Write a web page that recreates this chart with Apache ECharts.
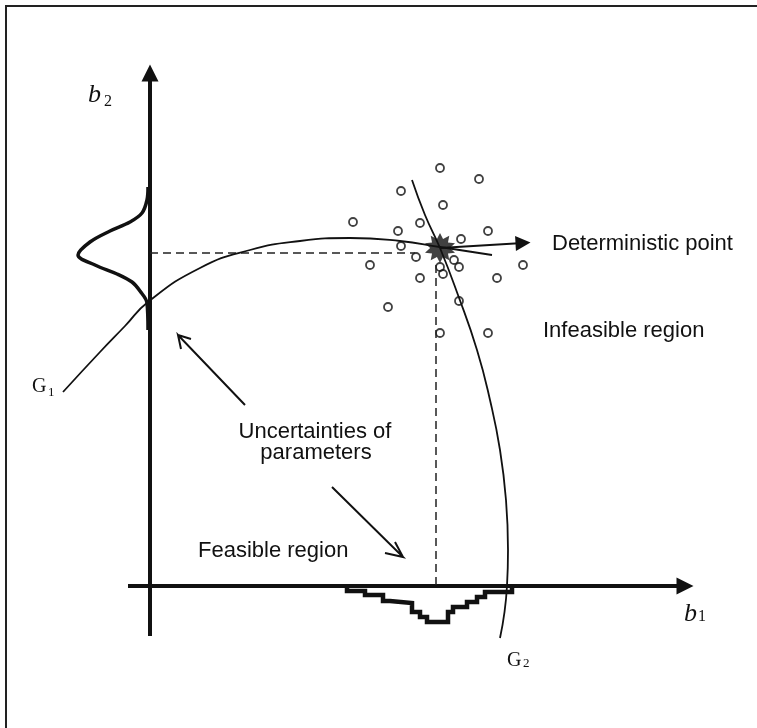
<!DOCTYPE html>
<html>
<head>
<meta charset="utf-8">
<script src="https://cdn.jsdelivr.net/npm/echarts@6/dist/echarts.min.js"></script>
<style>html,body{margin:0;padding:0;background:#fff}#c{width:757px;height:728px}</style>
</head>
<body>
<div id="c"></div>
<script>
// Data space: origin at the intersection of the b1/b2 axes (units of the sketch)
var scatterPoints = [
  [2.90,4.18],[3.29,4.07],[2.51,3.95],[2.93,3.81],[2.03,3.64],[2.70,3.63],
  [2.48,3.55],[3.38,3.55],[3.11,3.47],[2.51,3.40],[2.66,3.29],[2.20,3.21],
  [3.73,3.21],[3.09,3.19],[3.04,3.26],[2.93,3.12],[2.90,3.19],[2.70,3.08],
  [3.47,3.08],[2.38,2.79],[3.09,2.85],[2.90,2.53],[3.38,2.53]
];
var detPoint = [2.90,3.38];
var detArrowEnd = [3.73,3.43];
var g1Curve = [[-0.87,1.94],[-0.50,2.34],[-0.25,2.60],[-0.02,2.84],[0.50,3.18],[1.00,3.36],
  [1.50,3.45],[2.00,3.48],[2.50,3.45],[2.90,3.39],[3.42,3.31]];
var g2Curve = [[2.62,4.06],[2.75,3.71],[2.90,3.38],[3.08,2.91],[3.27,2.36],[3.40,1.86],
  [3.50,1.36],[3.56,0.86],[3.58,0.36],[3.57,0],[3.50,-0.52]];
var gaussCurve = [[-0.02,3.99],[-0.03,3.86],[-0.08,3.73],[-0.20,3.64],[-0.40,3.55],[-0.60,3.44],
  [-0.72,3.31],[-0.55,3.21],[-0.33,3.12],[-0.18,3.04],[-0.10,2.95],[-0.03,2.83],[-0.02,2.56]];
var histEdges = [1.97,2.15,2.33,2.40,2.62,2.70,2.77,2.98,3.03,3.17,3.27,3.35,3.62];
var histDepths = [-0.05,-0.09,-0.15,-0.17,-0.26,-0.31,-0.36,-0.26,-0.21,-0.16,-0.11,-0.06];
var b2Axis = [[0,-0.50],[0,5.13]];
var b1Axis = [[-0.22,0],[5.35,0]];
var guideH = [[0,3.33],[2.65,3.33]];
var guideV = [[2.86,3.21],[2.86,0]];
var pointer1 = [[0.95,1.81],[0.28,2.51],[0.31,2.37],[0.28,2.51],[0.41,2.47]];
var pointer2 = [[1.82,0.99],[2.53,0.29],[2.35,0.33],[2.53,0.29],[2.45,0.44]];

var histLine = [[histEdges[0],0]];
for (var i=0;i<histDepths.length;i++){
  histLine.push([histEdges[i],histDepths[i]]);
  histLine.push([histEdges[i+1],histDepths[i]]);
}
histLine.push([histEdges[histEdges.length-1],0]);

var starPath = 'path://M12,0 L14.32,4.87 L19.05,2.29 L18.07,7.59 L23.41,8.29 L19.5,12 L23.41,15.71 L18.07,16.41 L19.05,21.71 L14.32,19.13 L12,24 L9.68,19.13 L4.95,21.71 L5.93,16.41 L0.59,15.71 L4.5,12 L0.59,8.29 L5.93,7.59 L4.95,2.29 L9.68,4.87 Z';
var ink = '#111';
var sans = '"Liberation Sans", Arial, sans-serif';
var serif = '"Liberation Serif", "Times New Roman", serif';

function txt(x,y,t,size,fam,style,align){
  return {type:'text',x:x,y:y,silent:true,style:{text:t,fill:ink,fontSize:size,fontFamily:fam,fontStyle:style||'normal',textAlign:align||'left',textVerticalAlign:'middle'}};
}

var chart = echarts.init(document.getElementById('c'));
chart.setOption({
  animation:false,
  backgroundColor:'#fff',
  grid:{left:0,right:0,top:0,bottom:0,containLabel:false},
  xAxis:{type:'value',min:-1.50,max:6.07,show:false},
  yAxis:{type:'value',min:-1.42,max:5.86,show:false},
  graphic:[
    {type:'line',shape:{x1:6,y1:6,x2:757,y2:6},style:{stroke:'#222',lineWidth:2}},
    {type:'line',shape:{x1:6,y1:5,x2:6,y2:728},style:{stroke:'#222',lineWidth:2}},
    txt(552,244,'Deterministic point',22,sans),
    txt(543,331,'Infeasible region',22,sans),
    txt(315,432,'Uncertainties of',22,sans,'normal','center'),
    txt(316,453,'parameters',22,sans,'normal','center'),
    txt(198,551,'Feasible region',22,sans),
    txt(88,95,'b',26,serif,'italic'),
    txt(104,102,'2',16,serif),
    txt(684,614,'b',26,serif,'italic'),
    txt(698,617,'1',16,serif),
    txt(32,387,'G',20,serif),
    txt(48,393,'1',13,serif),
    txt(507,661,'G',20,serif),
    txt(523,664,'2',13,serif)
  ],
  series:[
    {type:'line',data:guideH,showSymbol:false,lineStyle:{color:'#222',width:1.5,type:[8,5]}},
    {type:'line',data:guideV,showSymbol:false,lineStyle:{color:'#222',width:1.5,type:[8,5]}},
    {type:'line',data:g1Curve,smooth:0.5,showSymbol:false,lineStyle:{color:ink,width:1.8}},
    {type:'line',data:g2Curve,smooth:0.5,showSymbol:false,lineStyle:{color:ink,width:1.8}},
    {type:'line',data:gaussCurve,smooth:0.35,showSymbol:false,lineStyle:{color:ink,width:3.5}},
    {type:'line',data:histLine,showSymbol:false,lineStyle:{color:ink,width:4.5,join:'miter'}},
    {type:'lines',coordinateSystem:'cartesian2d',symbol:['none','triangle'],symbolSize:17,
      lineStyle:{color:ink,width:4,opacity:1},
      data:[{coords:b2Axis},{coords:b1Axis}]},
    {type:'lines',coordinateSystem:'cartesian2d',symbol:['none','triangle'],symbolSize:15,
      lineStyle:{color:ink,width:2,opacity:1},
      data:[{coords:[detPoint,detArrowEnd]}]},
    {type:'lines',coordinateSystem:'cartesian2d',polyline:true,symbol:'none',
      lineStyle:{color:ink,width:2,opacity:1},
      data:[{coords:pointer1},{coords:pointer2}]},
    {type:'scatter',data:scatterPoints,symbol:'circle',symbolSize:8,
      itemStyle:{color:'rgba(0,0,0,0)',borderColor:ink,borderWidth:1.8}},
    {type:'scatter',data:[detPoint],symbol:starPath,symbolSize:30,itemStyle:{color:ink}}
  ]
});
</script>
</body>
</html>
